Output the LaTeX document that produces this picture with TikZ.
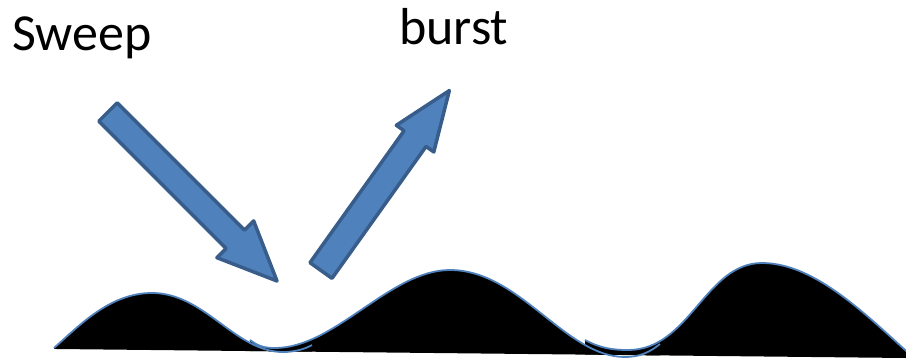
\documentclass[tikz,border=0pt]{standalone}
\usepackage{fontspec}
\setmainfont{Carlito}
\definecolor{arrowfill}{HTML}{4F81BD}
\definecolor{arrowline}{HTML}{385D8A}
\definecolor{waveline}{HTML}{4F81BD}
\newcommand\wavea{(54,348) .. controls (80,325) and (110,293) .. (152,293) .. controls (205,293) and (235,352) .. (283,352) .. controls (295,352) and (305,349) .. (312,345)}
\newcommand\waveb{(250,340) .. controls (258,346) and (264,348) .. (275,348) .. controls (335,348) and (390,270) .. (450,270) .. controls (520,270) and (565,357) .. (625,357) .. controls (640,357) and (650,352) .. (660,344)}
\newcommand\wavec{(585,340) .. controls (600,348) and (612,350) .. (628,350) .. controls (690,350) and (705,263) .. (762,263) .. controls (822,263) and (880,330) .. (930,372)}
\tikzset{
  blockarrow/.style={fill=arrowfill, draw=arrowline, line width=3.5pt, line join=round},
  wavefill/.style={fill=black},
  wavestroke/.style={draw=waveline, line width=1.8pt},
  label/.style={font=\fontsize{52}{60}\selectfont, anchor=base west, inner sep=0pt}
}
\begin{document}
\begin{tikzpicture}[x=1pt,y=-1pt]
\useasboundingbox (0,0) rectangle (906,359);
\begin{scope}
  \clip (0,0) -- (906,0) -- (906,358) -- (0,348.4) -- cycle;
  \fill[wavefill] \wavea -- (312,420) -- (54,420) -- cycle;
  \fill[wavefill] \waveb -- (660,420) -- (250,420) -- cycle;
  \fill[wavefill] \wavec -- (930,420) -- (585,420) -- cycle;
\end{scope}
\begin{scope}
  \clip (0,0) rectangle (906,359);
  \draw[wavestroke] \wavea;
  \draw[wavestroke] \waveb;
  \draw[wavestroke] \wavec;
\end{scope}
\begin{scope}[shift={(108,112)}, rotate=-45]
  \draw[blockarrow] (0,13) -- (180,13) -- (180,26) -- (239,0) -- (180,-26) -- (180,-13) -- (0,-13) -- cycle;
\end{scope}
\begin{scope}[shift={(321,270.5)}, rotate=54.5]
  \draw[blockarrow] (0,13.5) -- (162,13.5) -- (162,23) -- (221,0) -- (162,-23) -- (162,-13.5) -- (0,-13.5) -- cycle;
\end{scope}
\node[label] (sweep) at (12,50) {Sweep};
\node[label] (burst) at (399,44) {burst};
\end{tikzpicture}
\end{document}
